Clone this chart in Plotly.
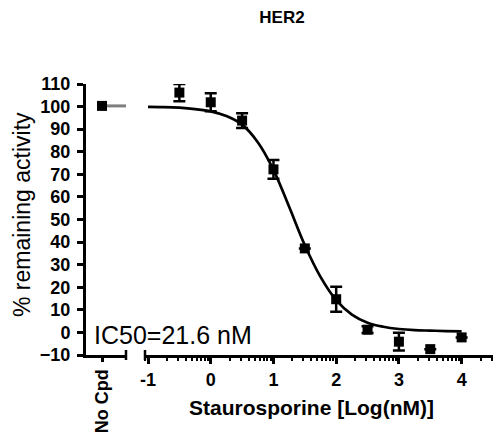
import numpy as np
import plotly.graph_objects as go

# measured points (log nM), mean % activity and error
logconc = [-0.5, 0, 0.5, 1, 1.5, 2, 2.5, 3, 3.5, 4]
activity = [106.2, 101.9, 93.8, 72.2, 37.2, 14.7, 1.2, -4.1, -7.4, -2.2]
err = [3.8, 4.0, 3.3, 4.2, 0, 5.5, 1.5, 3.9, 0, 0]

# no compound control
nocpd_x = [0]
nocpd_y = [100.3]

# fitted curve
curve_x = [-1, -0.75, -0.5, -0.25, 0, 0.25, 0.5, 0.75, 1, 1.25, 1.5,
           1.75, 2, 2.25, 2.5, 2.75, 3, 3.25, 3.5, 3.75, 4]
curve_y = [99.9, 99.8, 99.5, 98.9, 97.9, 95.8, 92.0, 84.2, 72.0, 55.6, 38.6,
           24.6, 14.3, 7.9, 4.3, 2.5, 1.5, 1.0, 0.8, 0.6, 0.5]

ticks_main = [-1, 0, 1, 2, 3, 4]
ytick_vals = list(range(-10, 111, 10))

FONT = "Arial, Liberation Sans, sans-serif"
OFF = 8  # page body margin
W, H = 503 - 2 * OFF, 445 - 2 * OFF
L, T = 86 - OFF, 84 - OFF
R = W - (493 - OFF)
B = H - (355 - OFF)
pw = W - L - R
ph = H - T - B

fig = go.Figure()

# no cpd grey line + marker
fig.add_trace(go.Scatter(x=[0, 0.9], y=[nocpd_y[0], nocpd_y[0]], mode="lines",
                         line=dict(color="#7f7f7f", width=3), xaxis="x", yaxis="y",
                         showlegend=False, hoverinfo="skip"))
fig.add_trace(go.Scatter(x=nocpd_x, y=nocpd_y, mode="markers",
                         marker=dict(symbol="square", size=10, color="black"),
                         xaxis="x", yaxis="y", showlegend=False))

fig.add_trace(go.Scatter(x=curve_x, y=curve_y, mode="lines",
                         line=dict(color="black", width=2.7, shape="spline", smoothing=1),
                         xaxis="x2", yaxis="y", showlegend=False, hoverinfo="skip"))
fig.add_trace(go.Scatter(x=logconc, y=activity, mode="markers",
                         marker=dict(symbol="square", size=10, color="black"),
                         error_y=dict(type="data", array=err, visible=True,
                                      color="black", thickness=2.5, width=6),
                         xaxis="x2", yaxis="y", showlegend=False))

minor = []
for d in range(-2, 5):
    for k in range(2, 10):
        v = d + np.log10(k)
        if -1.048 < v < 4.5:
            minor.append(float(v))

tickfont = dict(family=FONT, size=18, color="black", weight="bold")

fig.update_layout(
    width=W, height=H,
    margin=dict(l=L, r=R, t=T, b=B, autoexpand=False),
    plot_bgcolor="white", paper_bgcolor="white",
    title=dict(text="<b>HER2</b>", x=(282 - OFF) / W, xref="container", xanchor="center",
               y=1 - 3 / H, yref="container", yanchor="top", pad=dict(t=0, b=0),
               font=dict(family=FONT, size=17, color="black")),
    xaxis=dict(domain=[0, (126 - 86) / pw], range=[-0.6, 0.9],
               tickvals=[0], ticktext=["No Cpd"], tickangle=-90,
               ticks="outside", ticklen=4, tickwidth=2.5, tickcolor="black",
               showline=True, linecolor="black", linewidth=3,
               showgrid=False, zeroline=False, tickfont=tickfont,
               ticklabelstandoff=0),
    xaxis2=dict(domain=[(145 - 86) / pw, 1], range=[-1.048, 4.5],
                tickvals=ticks_main, ticktext=[str(t) for t in ticks_main],
                ticks="outside", ticklen=6, tickwidth=2.5, tickcolor="black",
                minor=dict(tickvals=minor, ticks="outside", ticklen=3,
                           tickwidth=2, tickcolor="black"),
                showline=True, linecolor="black", linewidth=3,
                showgrid=False, zeroline=False, tickfont=tickfont,
                ticklabelstandoff=0, anchor="y"),
    yaxis=dict(range=[-10, 110], tickvals=ytick_vals,
               ticks="outside", ticklen=6, tickwidth=2.5, tickcolor="black",
               showline=True, linecolor="black", linewidth=3,
               showgrid=False, zeroline=False, tickfont=tickfont,
               ticklabelstandoff=3),
)

# break caps on the x axis
capy = 5 / ph
for xr, xv in [("x domain", 1), ("x2 domain", 0)]:
    fig.add_shape(type="line", xref=xr, yref="paper", x0=xv, x1=xv,
                  y0=-capy, y1=capy, line=dict(color="black", width=2.5))

fig.add_annotation(text="% remaining activity", xref="paper", yref="paper",
                   x=(22 - 86) / pw, y=(355 - 215) / ph, textangle=-90, showarrow=False,
                   xanchor="center", yanchor="middle",
                   font=dict(family=FONT, size=23, color="black"))
fig.add_annotation(text="<b>Staurosporine [Log(nM)]</b>", xref="paper", yref="paper",
                   x=(311.7 - 86) / pw, y=(355 - 407) / ph, showarrow=False,
                   xanchor="center", yanchor="middle",
                   font=dict(family=FONT, size=21, color="black"))
fig.add_annotation(text="IC50=21.6 nM", xref="paper", yref="paper",
                   x=(92 - 86) / pw, y=(355 - 335) / ph, showarrow=False,
                   xanchor="left", yanchor="middle",
                   font=dict(family=FONT, size=25, color="black"))

fig.write_html("out.html")
